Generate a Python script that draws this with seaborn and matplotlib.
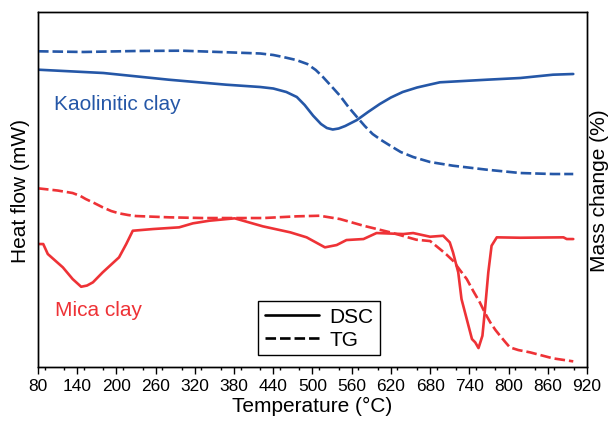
import numpy as np
import pandas as pd
import matplotlib
matplotlib.use("Agg")
import matplotlib.pyplot as plt
from matplotlib.lines import Line2D
from matplotlib.ticker import MultipleLocator
import seaborn as sns

# ---- data (arbitrary signal units) ----
kao_dsc_T = [80, 180, 280, 368, 420, 440, 460, 476, 488, 501, 513, 522, 531, 540, 550, 568, 585, 603,
             620, 638, 660, 680, 695, 767, 818, 868, 899]
kao_dsc_y = [297.3, 294, 287.3, 282.3, 280, 278.5, 275, 270, 262, 251.3, 243, 239, 237.5, 238.5, 241, 247,
             255, 263, 269.5, 275, 279.5, 282.5, 284.7, 287.3, 289, 292.3, 293]

kao_tg_T = [80, 150, 230, 300, 370, 420, 440, 455, 475, 492, 505, 516, 530, 542, 555, 568, 580, 592, 605,
            619, 635, 654, 680, 715, 767, 818, 868, 899]
kao_tg_y = [315.7, 315, 316, 316.3, 314.7, 313.5, 312, 310, 307, 303, 297, 290, 280, 271.3, 260, 250, 241,
            233, 227, 221.3, 215, 210, 205, 201.3, 197.3, 194, 193, 193]

mica_dsc_T = [80, 88, 95, 118, 133, 146, 155, 164, 179, 204, 215, 225, 256, 296, 317, 342, 381, 424, 466, 491,
              519, 537, 552, 578, 598, 639, 654, 680, 700, 710, 715, 723, 728, 736, 744, 749, 754, 760,
              764, 769, 774, 782, 818, 884, 889, 899]
mica_dsc_y = [123, 123, 113, 99.7, 88, 80.3, 81.5, 84.7, 94.7, 109.7, 123, 136.3, 138, 139.7, 143.7, 146.3,
              148.7, 140.7, 134.7, 129.7, 119.7, 122, 127, 128, 134, 133, 134, 130.3, 131.3, 124.7, 114.7,
              94.7, 68, 48, 28, 24.7, 19, 31.3, 58, 94.7, 121.3, 129.7, 129.3, 129.7, 128, 128]

mica_tg_T = [80, 110, 133, 145, 153, 166, 179, 192, 204, 218, 230, 281, 332, 383, 425, 476, 511, 542, 578,
             619, 659, 680, 695, 705, 715, 725, 736, 746, 756, 764, 772, 780, 787, 795, 802, 815, 833, 868, 899]
mica_tg_y = [178.7, 176.5, 174, 171, 168, 164, 159.7, 156, 153.7, 152, 151, 149.7, 149, 149, 149, 150.7,
             151.3, 148, 141.3, 134.7, 127.3, 126, 118, 112.5, 106.3, 97.5, 88, 76, 64.7, 54, 44.7, 37,
             31.3, 25, 19.7, 17, 14.7, 8.7, 5.7]

x_ticks = list(range(80, 921, 60))
sample_labels = ["Kaolinitic clay", "Mica clay"]
legend_labels = ["DSC", "TG"]

BLUE = "#2557a7"
RED = "#ee3236"

sns.set_style("ticks")
plt.rcParams["font.family"] = ["Liberation Sans", "DejaVu Sans"]
plt.rcParams["text.color"] = "black"
plt.rcParams["axes.labelcolor"] = "black"
plt.rcParams["xtick.color"] = "black"
plt.rcParams["ytick.color"] = "black"

fig = plt.figure(figsize=(6.14, 4.27), dpi=100)
ax = fig.add_axes([0.0619, 0.138, 0.8941, 0.8316])
ax2 = ax.twinx()

df_kd = pd.DataFrame({"T": kao_dsc_T, "v": kao_dsc_y})
df_kt = pd.DataFrame({"T": kao_tg_T, "v": kao_tg_y})
df_md = pd.DataFrame({"T": mica_dsc_T, "v": mica_dsc_y})
df_mt = pd.DataFrame({"T": mica_tg_T, "v": mica_tg_y})

lw = 1.9
sns.lineplot(data=df_kd, x="T", y="v", ax=ax, color=BLUE, lw=lw, sort=False)
sns.lineplot(data=df_md, x="T", y="v", ax=ax, color=RED, lw=lw, sort=False)
sns.lineplot(data=df_kt, x="T", y="v", ax=ax2, color=BLUE, lw=lw, sort=False)
sns.lineplot(data=df_mt, x="T", y="v", ax=ax2, color=RED, lw=lw, sort=False)
for line in ax2.get_lines():
    line.set_dashes((4, 1.5))
for line in ax.get_lines() + ax2.get_lines():
    line.set_solid_joinstyle("round")

for a in (ax, ax2):
    a.set_ylim(0, 355)
    a.set_yticks([])
    a.set_xlim(80, 920)
    for s in a.spines.values():
        s.set_linewidth(1.0)
        s.set_color("black")

ax.set_xticks(x_ticks)
ax.xaxis.set_minor_locator(MultipleLocator(30))
ax.tick_params(axis="x", which="major", length=5, width=1.0, direction="out",
               labelsize=12.5, pad=3, colors="black")
ax.tick_params(axis="x", which="minor", length=2.5, width=1.0, direction="out", colors="black")
ax2.tick_params(axis="x", which="both", bottom=False, top=False, labelbottom=False)

ax.set_xlabel("Temperature (°C)", fontsize=15, labelpad=2, color="black")
ax.set_ylabel("Heat flow (mW)", fontsize=15, labelpad=6, color="black")
ax2.set_ylabel("Mass change (%)", fontsize=15, labelpad=2, color="black")

ax.text(0.029, 0.741, sample_labels[0], transform=ax.transAxes, color=BLUE,
        fontsize=15, va="center", ha="left")
ax.text(0.031, 0.163, sample_labels[1], transform=ax.transAxes, color=RED,
        fontsize=15, va="center", ha="left")

handles = [Line2D([], [], color="black", lw=lw),
           Line2D([], [], color="black", lw=lw, dashes=(4, 1.5))]
leg = ax2.legend(handles, legend_labels, loc="upper left",
                 bbox_to_anchor=(0.3825, 0.216), fontsize=15, frameon=True,
                 fancybox=False, edgecolor="black", framealpha=1,
                 handlelength=2.6, handletextpad=0.5, borderpad=0.3, labelspacing=0.2)
leg.get_frame().set_linewidth(1.0)
for t in leg.get_texts():
    t.set_color("black")

fig.savefig("out.png", dpi=100)
